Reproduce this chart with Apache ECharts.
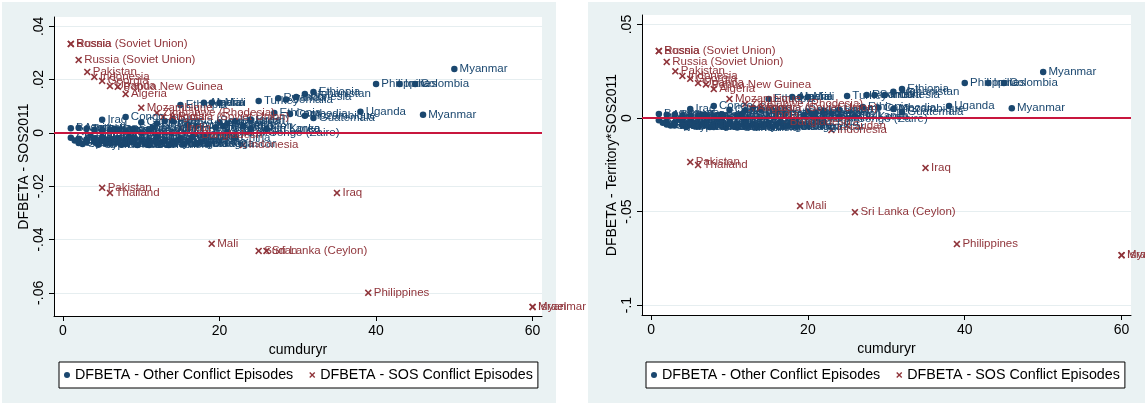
<!DOCTYPE html>
<html>
<head>
<meta charset="utf-8">
<script src="https://cdn.jsdelivr.net/npm/echarts@6/dist/echarts.min.js"></script>
<style>
html,body{margin:0;padding:0;background:#fff;}
#chart{width:1145px;height:405px;}
</style>
</head>
<body>
<div id="chart"></div>
<script>
// ---- Data: other conflict episodes (blue dots) ----
const otherNames = ["Bosnia","Croatia","Azerbaijan","Moldova","Georgia","Tajikistan","Armenia","Djibouti","Eritrea","Lebanon","Haiti","Iraq","Comoros","Niger","Senegal","Mali","Panama","Trinidad and Tobago","Russia (Soviet Union)","Ghana","Togo","Congo","Morocco","Paraguay","Venezuela","Soviet Union","Argentina","Bolivia","Democratic Republic of Congo (Zaire)","Liberia","Cameroon","Nigeria","Egypt","Guinea","Nepal","Laos","Kenya","Sudan","El Salvador","Sierra Leone","Ethiopia","Syria","South Africa","Peru","Angola","Nicaragua","Algeria","Chad","India","Mali","Iran","Burundi","Uganda","Lebanon","Israel","Turkey","Sri Lanka","Ethiopia","Rwanda","Somalia","Cambodia","Indonesia","Afghanistan","Mozambique","Ethiopia","Guatemala","Uganda","Philippines","India","Colombia","Myanmar","Myanmar",
  "Yugoslavia","Spain","United Kingdom","Cyprus","Mexico","Ecuador","Honduras","Dominican Republic","Cuba","Oman","Jordan","Libya","Tunisia","Mauritania","Zambia","Namibia","Lesotho","Madagascar","Malaysia","Vietnam","China","South Korea","Russia (Soviet Union)","Thailand"];
const otherX = [1,1,2,2,2,3,3,3,4,4,4,5,5,5,5,6,6,6,7,7,7,8,8,8,8,9,9,9,10,10,10,11,11,11,12,12,12,13,13,14,15,15,16,16,17,17,18,18,19,20,20,21,22,23,24,25,26,27,27.5,28.5,29,29.8,30.9,30.9,32,32,38,40,43,45,46,50,
  1.5,2.5,3.5,4.5,5.5,6.5,7.5,8.5,9.5,10.5,11.5,12.5,13.5,14.5,15.5,16.5,17.5,18.5,19.5,21,22,24,14,20.5];
const otherDfSOS = [0.0018,-0.0018,0.0019,-0.0022,-0.0038,0.0015,-0.0025,-0.0035,0.0012,-0.002,-0.0032,0.0049,0.001,-0.0015,-0.003,0.0008,-0.0025,-0.004,0.0012,-0.002,-0.0035,0.006,0.0005,-0.0028,-0.0042,0.0015,-0.002,-0.0035,0.0002,-0.0025,0.004,0.001,-0.003,-0.0045,0.0035,-0.0015,-0.004,0.0045,-0.0025,-0.0038,0.0105,-0.002,0.003,-0.003,0.0025,-0.0042,0.0113,-0.001,0.0113,0.0113,0.004,0.0035,0.0045,0.0025,0.005,0.012,0.0015,0.0075,0.013,0.0125,0.0071,0.0135,0.0146,0.0064,0.0154,0.0056,0.0079,0.0184,0.0184,0.0184,0.0068,0.024,
  -0.0028,-0.0042,-0.001,-0.0044,-0.004,0.0015,-0.0044,-0.0015,-0.0045,-0.004,0.002,-0.0035,-0.0045,-0.003,-0.0042,-0.0015,-0.0035,-0.0042,0.002,0.0005,-0.002,0.0015,0.0045,0.0025];
const otherDfTerr = [0.0022,-0.0012,0.0018,-0.002,-0.0035,0.0016,-0.0025,-0.004,0.0013,-0.0018,-0.0038,0.0048,0.0014,-0.002,-0.0035,0.001,-0.003,-0.0045,0.0015,-0.0025,-0.004,0.0064,0.0008,-0.003,-0.0048,0.002,-0.0022,-0.004,-0.0005,-0.003,0.0045,0.0012,-0.0036,-0.005,0.004,-0.002,-0.0045,0.0055,-0.003,-0.004,0.0102,-0.0025,0.003,-0.0035,0.002,-0.0045,0.0112,-0.0015,0.0112,0.0112,0.0035,0.003,0.004,0.0025,0.0045,0.0118,0.001,0.0059,0.0123,0.0123,0.0055,0.0123,0.014,0.0048,0.0155,0.0032,0.0064,0.0187,0.0187,0.0187,0.0053,0.0246,
  -0.0025,-0.004,-0.0008,-0.0048,-0.0042,0.0018,-0.0048,-0.0018,-0.0048,-0.0045,0.002,-0.004,-0.005,-0.0035,-0.0046,-0.002,-0.004,-0.0045,0.0015,0.0,-0.0025,0.0008,0.0045,0.002];

// ---- Data: SOS conflict episodes (red crosses) ----
const sosNames = ["Russia (Soviet Union)","Bosnia","Russia (Soviet Union)","Pakistan","Indonesia","Georgia","Uganda","Papua New Guinea","Algeria","Mozambique","Zimbabwe (Rhodesia)","Angola","Russia (Soviet Union)","India","Bangladesh","Indonesia","Pakistan","Thailand","Mali","Sudan","Sri Lanka (Ceylon)","Iraq","Philippines","Israel","Myanmar"];
const sosX = [1,1,2,3.1,4,5,6,7,8,10,12,12.8,14,15,17,23,5,6,19,25,26,35,39,60,60];
const sosDfSOS = [0.0334,0.0334,0.0274,0.0229,0.021,0.0195,0.0176,0.0173,0.0146,0.0094,0.0075,0.006,0.006,0.0019,-0.0008,-0.0045,-0.0206,-0.0225,-0.0416,-0.0443,-0.0443,-0.0225,-0.060,-0.0653,-0.0653];
const sosDfTerr = [0.0358,0.0358,0.030,0.025,0.0225,0.021,0.0187,0.018,0.0155,0.0102,0.0075,0.0053,0.0055,0.0016,-0.002,-0.0064,-0.0235,-0.0251,-0.047,-0.004,-0.0503,-0.0267,-0.0674,-0.0733,-0.0733];

// ---- Axis ticks ----
const xTicks = [0,20,40,60];
const yTicksLeft = [-0.06,-0.04,-0.02,0,0.02,0.04];
const yTicksRight = [-0.1,-0.05,0,0.05];

const seriesOther = 'DFBETA - Other Conflict Episodes';
const seriesSOS = 'DFBETA - SOS Conflict Episodes';
const BLUE = '#1a476f';
const RED = '#90353b';
const ZERO = '#c8163e';
const GRID = '#e6eef0';
const BG = '#eaf2f3';
const FONT = 'Liberation Sans, Arial, sans-serif';
const XPATH = 'path://M0,1.6L1.6,0L5,3.4L8.4,0L10,1.6L6.6,5L10,8.4L8.4,10L5,6.6L1.6,10L0,8.4L3.4,5Z';

function stataFmt(v){
  if (Math.abs(v) < 1e-12) return '0';
  const s = parseFloat(Number(v).toFixed(4)).toString();
  return s.replace(/^(-?)0\./, '$1.');
}
function pts(xs, ys, names){ return xs.map((x,i)=>({value:[x, ys[i]], name:names[i]})); }

function xAxisCfg(gi){
  return {
    gridIndex: gi, type:'value', min:-1.15, max:61.2,
    name:'cumduryr', nameLocation:'middle', nameGap:25,
    nameTextStyle:{fontSize:14, color:'#000', fontFamily:FONT},
    axisLine:{show:true, onZero:false, lineStyle:{color:'#000', width:1}},
    axisTick:{show:true, length:5, customValues:xTicks, lineStyle:{color:'#000'}},
    axisLabel:{customValues:xTicks, fontSize:14, color:'#000', margin:8, fontFamily:FONT},
    splitLine:{show:false}
  };
}
function yAxisCfg(gi, min, max, ticks, title){
  return {
    gridIndex: gi, type:'value', min:min, max:max,
    name:title, nameLocation:'middle', nameGap:23, nameRotate:90,
    nameTextStyle:{fontSize:14, color:'#000', fontFamily:FONT},
    axisLine:{show:true, onZero:false, lineStyle:{color:'#000', width:1}},
    axisTick:{show:true, length:5, customValues:ticks, lineStyle:{color:'#000'}},
    axisLabel:{customValues:ticks, rotate:90, fontSize:14, color:'#000', margin:8, fontFamily:FONT, formatter:stataFmt},
    splitLine:{show:true, lineStyle:{color:GRID, width:1}}
  };
}
function scatter(name, xi, yi, data, color, symbol, size, withZero){
  const s = {
    name:name, type:'scatter', xAxisIndex:xi, yAxisIndex:yi, data:data,
    symbol:symbol, symbolSize:size, itemStyle:{color:color, opacity:1},
    label:{show:true, position:'right', distance:2, formatter:'{b}', color:color, fontSize:11.5, fontFamily:FONT},
    emphasis:{disabled:true}, animation:false
  };
  if (withZero){
    s.markLine = {silent:true, symbol:'none', animation:false, label:{show:false},
      lineStyle:{color:ZERO, width:2, type:'solid'}, data:[{yAxis:0}], z:10};
  }
  return s;
}
function legendCfg(left){
  return {
    left:left, top:362, orient:'horizontal',
    borderColor:'#000', borderWidth:1, backgroundColor:'#fff', borderRadius:0,
    padding:[6,5,6,5], itemGap:16, itemWidth:6, itemHeight:6,
    textStyle:{fontSize:14.3, color:'#000', fontFamily:FONT},
    selectedMode:false,
    data:[{name:seriesOther, icon:'circle', itemStyle:{color:BLUE}}, {name:seriesSOS, icon:XPATH, itemStyle:{color:RED}}]
  };
}

const chart = echarts.init(document.getElementById('chart'), null, {renderer:'canvas'});
chart.setOption({
  animation:false,
  backgroundColor:'#fff',
  graphic:[
    {type:'rect', shape:{x:2, y:2, width:554, height:401}, style:{fill:BG}, z:-10, silent:true},
    {type:'rect', shape:{x:588, y:2, width:560, height:401}, style:{fill:BG}, z:-10, silent:true}
  ],
  grid:[
    {left:54, top:17, width:488, height:299, show:true, backgroundColor:'#fff', borderWidth:0},
    {left:642, top:15, width:489, height:300, show:true, backgroundColor:'#fff', borderWidth:0}
  ],
  xAxis:[xAxisCfg(0), xAxisCfg(1)],
  yAxis:[
    yAxisCfg(0, -0.0687, 0.0435, yTicksLeft, 'DFBETA - SOS2011'),
    yAxisCfg(1, -0.1053, 0.0551, yTicksRight, 'DFBETA - Territory*SOS2011')
  ],
  legend:[legendCfg(59), legendCfg(646)],
  series:[
    scatter(seriesOther, 0, 0, pts(otherX, otherDfSOS, otherNames), BLUE, 'circle', 6.5, false),
    scatter(seriesSOS, 0, 0, pts(sosX, sosDfSOS, sosNames), RED, XPATH, 7, true),
    scatter(seriesOther, 1, 1, pts(otherX, otherDfTerr, otherNames), BLUE, 'circle', 6.5, false),
    scatter(seriesSOS, 1, 1, pts(sosX, sosDfTerr, sosNames), RED, XPATH, 7, true)
  ]
});
</script>
</body>
</html>
